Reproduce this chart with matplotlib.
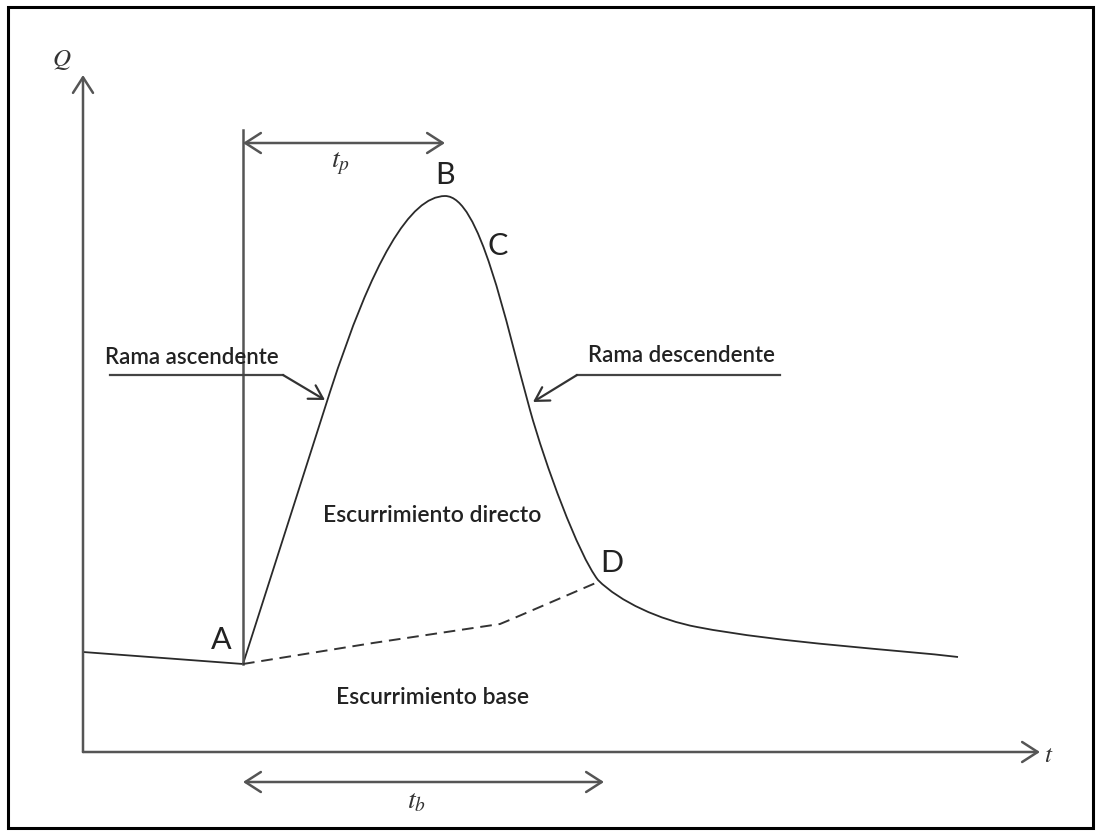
import numpy as np
import matplotlib.pyplot as plt
from matplotlib.patches import Rectangle, PathPatch
from matplotlib.path import Path

plt.rcParams['mathtext.fontset'] = 'stix'

# hydrograph (pixel coords, y down):
# anchor points with bezier control points between them
hyd_verts = [(83, 652), (243, 664), (330, 392),
             (393, 196), (445, 196),
             (480, 196), (505, 320), (530, 410),
             (545, 464), (578, 554), (598, 580),
             (620, 602), (660, 620), (697, 627),
             (780, 643), (900, 650), (958, 657)]
hyd_codes = [Path.MOVETO, Path.LINETO, Path.LINETO,
             Path.CURVE3, Path.CURVE3,
             Path.CURVE4, Path.CURVE4, Path.CURVE4,
             Path.CURVE4, Path.CURVE4, Path.CURVE4,
             Path.CURVE4, Path.CURVE4, Path.CURVE4,
             Path.CURVE4, Path.CURVE4, Path.CURVE4]

# base flow separation (dashed)
base_x = [243, 373, 500, 512, 598]
base_y = [664, 643, 624, 619, 582]

# annotations
point_names = ['A', 'B', 'C', 'D']
point_pos = [(221, 640), (445, 175), (498, 246), (612, 563)]

fig = plt.figure(figsize=(11.01, 8.35), dpi=100)
ax = fig.add_axes([0, 0, 1, 1])
ax.set_xlim(0, 1101)
ax.set_ylim(835, 0)
ax.axis('off')

ax.add_patch(Rectangle((8, 7), 1085, 821, fill=False, ec='black', lw=2.2))

axis_col = '#555555'
arw = dict(arrowstyle='->,head_length=0.7,head_width=0.45', color=axis_col, lw=1.8,
           shrinkA=0, shrinkB=0, mutation_scale=16)
dbl = dict(arrowstyle='<->,head_length=0.7,head_width=0.45', color=axis_col, lw=1.8,
           shrinkA=0, shrinkB=0, mutation_scale=16)

# axes
ax.annotate('', xy=(83, 75), xytext=(83, 752), arrowprops=arw)
ax.annotate('', xy=(1040, 752), xytext=(83, 752), arrowprops=arw)
ax.text(62, 60, '$Q$', fontsize=18, ha='center', va='center', color='#333333')
ax.text(1049, 755, '$t$', fontsize=18, ha='center', va='center', color='#333333')

# start of runoff vertical and time spans
ax.plot([243, 243], [130, 664], color=axis_col, lw=1.8)
ax.annotate('', xy=(445, 143), xytext=(243, 143), arrowprops=dbl)
ax.text(340, 163, '$t_p$', fontsize=20, ha='center', va='center', color='#333333')
ax.annotate('', xy=(604, 782), xytext=(243, 782), arrowprops=dbl)
ax.text(416, 800, '$t_b$', fontsize=20, ha='center', va='center', color='#333333')

# curves
ax.add_patch(PathPatch(Path(hyd_verts, hyd_codes), fill=False, ec='#2a2a2a', lw=1.3))
ax.plot(base_x, base_y, color='#333333', lw=1.4, dashes=(6, 3.5))

for name, (px, py) in zip(point_names, point_pos):
    ax.text(px, py, name, fontsize=22, family='Lato', ha='center', va='center',
            color='#222222')

# branch labels with leaders
lead = dict(arrowstyle='->,head_length=0.6,head_width=0.35', color='#333333', lw=1.6,
            shrinkA=0, shrinkB=0, mutation_scale=16)
ax.text(192, 358, 'Rama ascendente', fontsize=16, family='Lato', weight='semibold',
        ha='center', va='center', color='#222222')
ax.plot([110, 283], [375, 375], color='#444444', lw=1.6)
ax.annotate('', xy=(325, 400), xytext=(283, 375), arrowprops=lead)
ax.text(681, 356, 'Rama descendente', fontsize=16, family='Lato', weight='semibold',
        ha='center', va='center', color='#222222')
ax.plot([577, 780], [375, 375], color='#444444', lw=1.6)
ax.annotate('', xy=(533, 402), xytext=(577, 375), arrowprops=lead)

ax.text(432, 515, 'Escurrimiento directo', fontsize=16.5, family='Lato', weight='semibold',
        ha='center', va='center', color='#222222')
ax.text(432, 697, 'Escurrimiento base', fontsize=16.5, family='Lato', weight='semibold',
        ha='center', va='center', color='#222222')

fig.savefig('out.png', dpi=100)
